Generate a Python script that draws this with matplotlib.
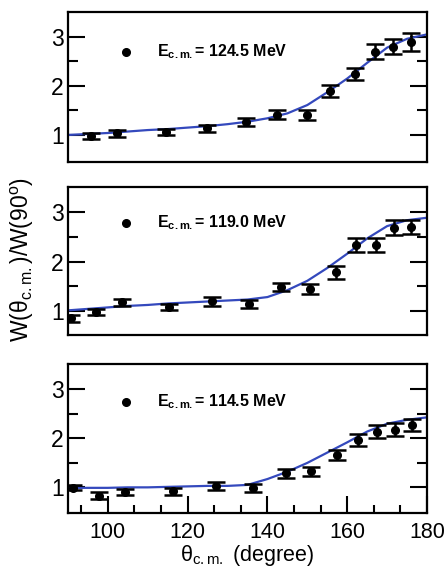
import matplotlib
matplotlib.use("Agg")
import matplotlib.pyplot as plt
from matplotlib.ticker import FixedLocator, NullLocator

plt.rcParams['font.family'] = ['Liberation Sans', 'DejaVu Sans']
plt.rcParams['mathtext.fontset'] = 'custom'
plt.rcParams['mathtext.rm'] = 'Liberation Sans'
plt.rcParams['mathtext.bf'] = 'Liberation Sans:bold'
plt.rcParams['mathtext.it'] = 'Liberation Sans:italic'

# ---------------- data ----------------
energies = ["124.5", "119.0", "114.5"]

theta_1 = [95.8, 102.3, 114.5, 124.8, 134.5, 142.5, 149.9, 155.8, 161.9, 166.9, 171.4, 175.9]
w_1 = [0.98, 1.03, 1.06, 1.14, 1.27, 1.41, 1.41, 1.90, 2.24, 2.70, 2.80, 2.89]
err_1 = [0.07, 0.07, 0.07, 0.07, 0.08, 0.09, 0.10, 0.12, 0.13, 0.15, 0.16, 0.18]

theta_2 = [90.7, 97.1, 103.5, 115.2, 126.2, 135.5, 143.4, 150.7, 157.1, 162.3, 167.2, 171.7, 176.0]
w_2 = [0.85, 0.97, 1.17, 1.07, 1.19, 1.14, 1.49, 1.45, 1.78, 2.34, 2.34, 2.69, 2.70]
err_2 = [0.07, 0.06, 0.07, 0.06, 0.09, 0.09, 0.085, 0.10, 0.13, 0.14, 0.14, 0.16, 0.15]

theta_3 = [91.2, 97.7, 104.3, 116.4, 127.0, 136.5, 144.6, 150.9, 157.4, 162.6, 167.4, 171.9, 176.3]
w_3 = [0.99, 0.83, 0.90, 0.92, 1.03, 0.99, 1.29, 1.33, 1.66, 1.96, 2.14, 2.18, 2.27]
err_3 = [0.05, 0.07, 0.06, 0.07, 0.08, 0.08, 0.09, 0.09, 0.10, 0.12, 0.13, 0.13, 0.12]

fit_theta = [90, 95, 100, 105, 110, 115, 120, 125, 130, 135, 140, 145, 150, 155, 160, 165, 170, 175, 180]
fit_1 = [1.00, 1.02, 1.04, 1.07, 1.10, 1.12, 1.15, 1.18, 1.22, 1.27, 1.34, 1.44, 1.61, 1.87, 2.15, 2.47, 2.78, 2.96, 3.05]
fit_2 = [1.01, 1.04, 1.07, 1.10, 1.12, 1.15, 1.17, 1.19, 1.21, 1.23, 1.28, 1.42, 1.61, 1.87, 2.16, 2.47, 2.72, 2.84, 2.89]
fit_3 = [0.99, 0.99, 0.99, 1.00, 1.00, 1.01, 1.02, 1.03, 1.03, 1.05, 1.17, 1.32, 1.50, 1.71, 1.92, 2.14, 2.30, 2.38, 2.43]

panels = [
    (theta_1, w_1, err_1, fit_1, energies[0]),
    (theta_2, w_2, err_2, fit_2, energies[1]),
    (theta_3, w_3, err_3, fit_3, energies[2]),
]

# ---------------- figure ----------------
W, H = 448, 571
fig = plt.figure(figsize=(W / 100, H / 100), dpi=100)

# pixel boxes (left, top, right, bottom)
boxes = [(68, 12.3, 427, 161.7), (68, 186.7, 427, 335), (68, 364, 427, 513.3)]
ylims = [(0.455, 3.50), (0.51, 3.52), (0.47, 3.52)]
leg_y = [0.736, 0.757, 0.747]

blue = '#3449bd'
for i, ((th, w, e, fit, en), (l, t, r, b)) in enumerate(zip(panels, boxes)):
    ax = fig.add_axes([l / W, 1 - b / H, (r - l) / W, (b - t) / H])
    ax.plot(fit_theta, fit, color=blue, lw=1.6, zorder=2)
    ax.errorbar(th, w, yerr=e, fmt='o', color='black', ms=5.5, elinewidth=1.8,
                capsize=6.5, capthick=1.8, zorder=3)
    ax.set_xlim(90, 180)
    ax.set_ylim(*ylims[i])
    ax.set_yticks([1, 2, 3])
    ax.yaxis.set_minor_locator(FixedLocator([1.5, 2.5]))
    ax.tick_params(axis='y', which='major', direction='in', length=12, width=1.5,
                   left=True, right=True, labelsize=16.5, pad=3)
    ax.tick_params(axis='y', which='minor', direction='in', length=7, width=1.5,
                   left=True, right=True)
    if i < 2:
        ax.xaxis.set_major_locator(NullLocator())
        ax.xaxis.set_minor_locator(NullLocator())
    else:
        ax.set_xticks([100, 120, 140, 160, 180])
        minors = [100 + k * 20 / 3 for k in range(-1, 12) if k % 3 != 0]
        ax.xaxis.set_minor_locator(FixedLocator(minors))
        ax.tick_params(axis='x', which='major', direction='in', length=12, width=1.5,
                       labelsize=15.5, pad=6)
        ax.tick_params(axis='x', which='minor', direction='in', length=6, width=1.5)
        ax.set_xlabel(r'θ$_{\rm c.m.}$ (degree)', fontsize=15.5, labelpad=0)
    for s in ax.spines.values():
        s.set_linewidth(1.6)
    ax.plot([0.162], [leg_y[i]], 'o', color='black', ms=5.5, transform=ax.transAxes)
    ax.text(0.248, leg_y[i], r'E$_{\mathbf{c.m.}}$= ' + en + ' MeV', transform=ax.transAxes,
            fontsize=11.5, fontweight='bold', va='center', ha='left')

fig.text(22 / W, 1 - 260 / H, r'W(θ$_{\rm c.m.}$)/W(90$^{\rm o}$)', rotation=90,
         fontsize=16.5, ha='center', va='center')

fig.savefig('out.png', dpi=100)
